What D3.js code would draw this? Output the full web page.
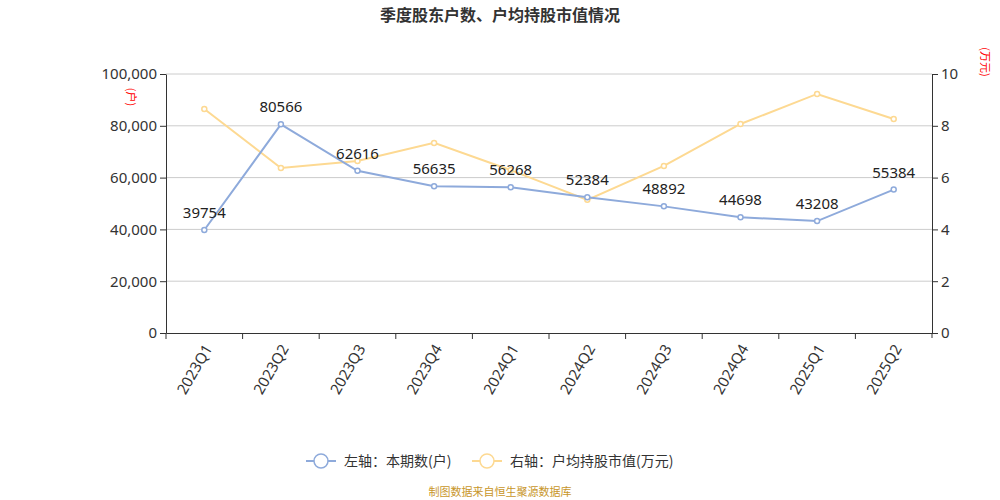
<!DOCTYPE html>
<html><head><meta charset="utf-8">
<script src="https://cdn.jsdelivr.net/npm/d3@7"></script>
<style>body{margin:0;background:#fff;font-family:"Noto Sans CJK SC","Noto Sans",sans-serif;}</style>
</head><body><div id="chart"></div>
<script>
var quarters = ["2023Q1","2023Q2","2023Q3","2023Q4","2024Q1","2024Q2","2024Q3","2024Q4","2025Q1","2025Q2"];
var holders = [39754,80566,62616,56635,56268,52384,48892,44698,43208,55384];
var avgValue = [8.65,6.37,6.64,7.34,6.29,5.14,6.45,8.07,9.23,8.26];
var leftTicks = [0,20000,40000,60000,80000,100000];
var rightTicks = [0,2,4,6,8,10];

var w = 1000, h = 500;
var padLeft = 166, padRight = 932, padTop = 74, padBottom = 333;
var blue = "#8eaadb", yellow = "#fdd992";

var svg = d3.select("#chart").append("svg").attr("width", w).attr("height", h);

var x = d3.scaleBand().domain(quarters).range([padLeft, padRight]);
var yL = d3.scaleLinear().domain([0,100000]).range([padBottom, padTop]);
var yR = d3.scaleLinear().domain([0,10]).range([padBottom, padTop]);

svg.append("text").attr("x", 500).attr("y", 21).attr("text-anchor","middle")
  .attr("font-size", 16).attr("font-weight","bold").attr("fill","#333")
  .text("季度股东户数、户均持股市值情况");

// grid
svg.selectAll(".grid").data(leftTicks.slice(1)).enter().append("line")
  .attr("x1", padLeft).attr("x2", padRight)
  .attr("y1", function(d){ return yL(d); }).attr("y2", function(d){ return yL(d); })
  .attr("stroke","#ccc");

var axL = svg.append("g").attr("transform","translate(" + padLeft + ",0)")
  .call(d3.axisLeft(yL).tickValues(leftTicks).tickFormat(d3.format(",")).tickSizeOuter(0));
var axR = svg.append("g").attr("transform","translate(" + padRight + ",0)")
  .call(d3.axisRight(yR).tickValues(rightTicks).tickSizeOuter(0));
var axX = svg.append("g").attr("transform","translate(0," + padBottom + ")")
  .call(d3.axisBottom(x).tickSizeOuter(0));
axX.selectAll(".tick line").attr("transform","translate(" + (-x.bandwidth()/2) + ",0)");
axX.append("line").attr("x1", padRight).attr("x2", padRight).attr("y1",0).attr("y2",5).attr("stroke","#333");
axX.selectAll(".tick text").attr("transform","rotate(-60)").attr("text-anchor","end")
  .attr("dx","-0.6em").attr("dy","0.4em");
[axL, axR, axX].forEach(function(a){
  a.selectAll("text").attr("font-size", 15).attr("fill","#333").attr("font-family","Noto Sans, sans-serif");
  a.selectAll("path, line").attr("stroke","#333");
});

svg.append("text").attr("transform","translate(127,97) rotate(90)").attr("text-anchor","middle")
  .attr("font-size", 11).attr("fill","red").text("(户)");
svg.append("text").attr("transform","translate(981,62) rotate(90)").attr("text-anchor","middle")
  .attr("font-size", 11).attr("fill","red").text("(万元)");

function cx(d,i){ return x(quarters[i]) + x.bandwidth()/2; }

svg.append("path").datum(avgValue).attr("fill","none").attr("stroke",yellow).attr("stroke-width",2)
  .attr("d", d3.line().x(function(d,i){ return cx(d,i); }).y(function(d){ return yR(d); }));
svg.selectAll(".py").data(avgValue).enter().append("circle")
  .attr("cx", cx).attr("cy", function(d){ return yR(d); }).attr("r",2.5)
  .attr("fill","#fff").attr("stroke",yellow).attr("stroke-width",1.5);

svg.append("path").datum(holders).attr("fill","none").attr("stroke",blue).attr("stroke-width",2)
  .attr("d", d3.line().x(function(d,i){ return cx(d,i); }).y(function(d){ return yL(d); }));
svg.selectAll(".pb").data(holders).enter().append("circle")
  .attr("cx", cx).attr("cy", function(d){ return yL(d); }).attr("r",2.5)
  .attr("fill","#fff").attr("stroke",blue).attr("stroke-width",1.5);
svg.selectAll(".lb").data(holders).enter().append("text")
  .attr("x", cx).attr("y", function(d){ return yL(d) - 12; }).attr("text-anchor","middle")
  .attr("font-size", 15).attr("fill","#222").attr("font-family","Noto Sans, sans-serif")
  .text(function(d){ return d; });

// legend
var legend = [{t:"左轴：本期数(户)", c:blue, x:306}, {t:"右轴：户均持股市值(万元)", c:yellow, x:472}];
legend.forEach(function(l){
  var g = svg.append("g").attr("transform","translate(" + l.x + ",461)");
  g.append("line").attr("x1",0).attr("x2",30).attr("stroke",l.c).attr("stroke-width",2);
  g.append("circle").attr("cx",15).attr("r",7).attr("fill","#fff").attr("stroke",l.c).attr("stroke-width",1.5);
  g.append("text").attr("x",38).attr("y",5).attr("font-size",14).attr("fill","#333").text(l.t);
});

svg.append("text").attr("x",500).attr("y",496).attr("text-anchor","middle")
  .attr("font-size",11).attr("fill","#c8962a").text("制图数据来自恒生聚源数据库");
</script></body></html>
